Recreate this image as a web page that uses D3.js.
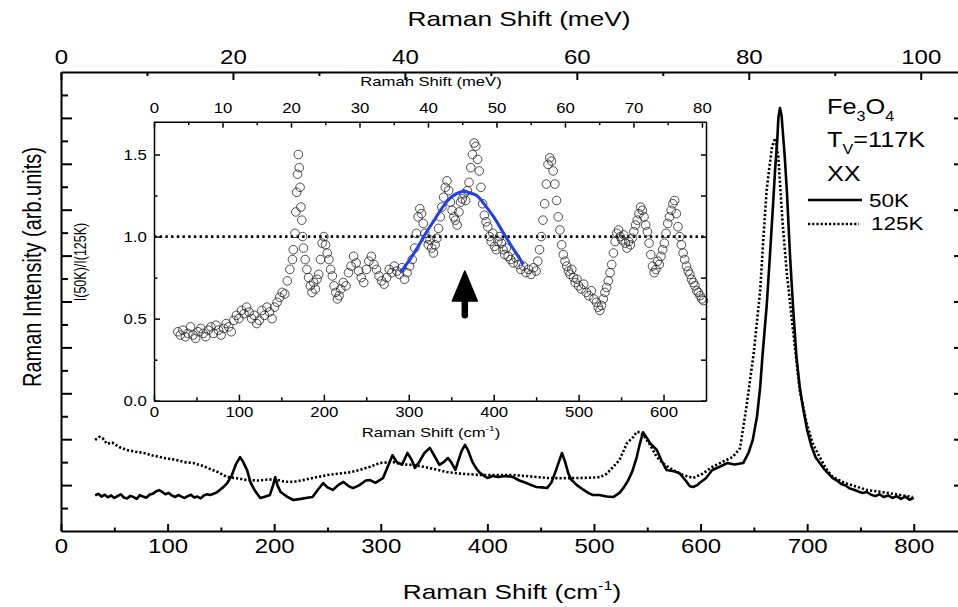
<!DOCTYPE html>
<html><head><meta charset="utf-8">
<script src="https://cdn.jsdelivr.net/npm/d3@7"></script>
<style>
body{margin:0;background:#fff;}
text{font-family:"Liberation Sans",Arial,sans-serif;fill:#000;}
</style>
</head><body>
<svg id="chart" width="958" height="607"></svg>
<script>
// ---- Main spectra (Raman shift cm-1, intensity arb. units) ----
const wn50 = [
32,35,38,41,44,47,50,53,56,59,
62,65,68,71,74,77,80,83,86,89,
92,95,98,101,104,107,110,113,116,119,
122,125,128,131,134,137,140,143,146,152,
156,160,164,168,171,174.5,178,182,187,192,
196,199,201,203,206,212,218,225,231,236,
241,246,250,255,260,265,270,274,280,286,
290,295,299,302,306,311,315,320,325,329,
332,336,341,346,350,355,359,363,366,370,
373,376,379,382,386,390,393,397,400,405,
410,417,424,430,436,441,446,451,456,460,
464,467,470,473,476,479,484,490,495,499,
505,512,518,524,528,532,536,540,543,546,
549,553,559,563,568,575,580,586,590,593,
597,599,605,611,618,625,632,640,645,649,
653,656,658,662,665,668,670,672,673,674.5,
676,677.5,679,681,684,687,690,693,696,700,
704,708,712,716,720,724,728,732,736,740,
744,748,752,756,760,764,768,772,776,780,
784,788,792,796,800];
const int50 = [
1.55,1.62,1.50,1.58,1.47,1.55,1.44,1.52,1.60,1.46,
1.42,1.53,1.48,1.40,1.56,1.50,1.45,1.58,1.62,1.72,
1.78,1.70,1.60,1.66,1.55,1.48,1.57,1.50,1.44,1.52,
1.58,1.46,1.50,1.42,1.55,1.60,1.57,1.62,1.68,1.90,
2.09,2.40,2.90,3.22,3.00,2.66,2.10,1.75,1.44,1.50,
1.57,2.00,2.35,2.00,1.70,1.50,1.35,1.40,1.45,1.48,
1.80,2.09,1.90,1.79,2.00,2.14,1.95,1.87,2.00,2.20,
2.22,2.10,2.22,2.30,2.75,3.30,3.00,2.90,3.40,3.10,
2.75,3.00,3.40,3.62,3.30,2.88,3.00,3.18,3.00,2.66,
3.10,3.50,3.75,3.50,3.00,2.70,2.53,2.40,2.31,2.40,
2.35,2.40,2.35,2.20,2.10,2.00,1.92,1.90,1.87,2.10,
2.60,3.00,3.40,3.00,2.50,2.22,2.00,1.80,1.65,1.57,
1.57,1.50,1.48,1.66,1.90,2.20,2.60,3.20,3.80,4.30,
4.10,3.80,3.53,3.10,2.66,2.60,2.53,2.20,1.95,1.92,
2.00,2.09,2.30,2.66,2.80,2.96,2.90,2.96,3.40,3.97,
5.00,6.30,7.58,9.80,11.94,14.20,15.80,17.04,18.00,18.43,
18.10,17.20,16.30,14.80,11.94,9.60,7.58,6.30,5.40,4.40,
3.70,3.20,2.95,2.70,2.50,2.30,2.20,2.05,1.98,1.85,
1.80,1.72,1.66,1.70,1.58,1.52,1.60,1.48,1.55,1.44,
1.52,1.40,1.50,1.36,1.45];
const wn125 = [
32,36,39,43,48,55,62,70,78,85,
93,100,108,116,124,132,140,148,156,165,
174,185,195,203,210,218,225,235,250,260,
270,280,290,299,311,320,330,340,350,362,
375,393,410,424,440,456,470,487,500,506,
512,518,524,531,537,540,543,546,552,559,
566,574,583,593,602,611,620,630,637,643,
650,656,659,662,665,667,670,673,675,677,
681,686,690,693,699,705,712,718,724,735,
745,756,770,787,799];
const int125 = [
3.97,4.10,4.05,3.80,3.85,3.65,3.53,3.45,3.40,3.30,
3.22,3.15,3.10,3.00,2.96,2.85,2.70,2.55,2.35,2.30,
2.22,2.20,2.25,2.22,2.15,2.14,2.20,2.30,2.44,2.50,
2.55,2.66,2.80,2.96,3.01,2.90,2.88,2.80,2.70,2.57,
2.50,2.44,2.44,2.44,2.38,2.31,2.30,2.31,2.33,2.35,
2.50,2.79,3.10,3.83,4.10,4.31,4.31,4.20,3.80,3.22,
2.90,2.66,2.45,2.31,2.50,2.79,3.00,3.22,3.60,5.40,
7.80,10.50,12.80,14.86,16.00,16.73,17.12,16.30,14.80,13.42,
11.20,9.06,7.40,6.14,4.80,3.83,3.20,2.70,2.35,2.10,
1.95,1.79,1.70,1.57,1.48];

// ---- Inset: ratio I(50K)/I(125K) ----
const ratioWn = [
28,31,34,37,40,43,46,49,52,55,
58,61,64,67,70,73,76,79,82,85,
88,91,94,97,100,103,106,109,112,115,
118,121,124,127,130,133,136,139,142,145,
148,151,154,157,160,163,164,166,167,168,
169,170,171,172,173,174,175,176,178,180,
182,184,186,188,190,192,194,196,198,200,
202,204,206,208,210,212,214,216,218,220,
223,226,229,232,235,238,241,244,247,250,
253,256,259,262,265,268,271,274,277,280,
283,286,289,292,295,298,301,304,307,309,
311,313,315,317,319,321,323,325,327,329,
331,333,335,337,339,341,343,345,347,349,
351,353,355,357,359,361,363,365,367,369,
371,373,375,377,379,381,383,385,387,389,
391,393,395,397,399,401,403,405,407,409,
411,413,415,417,420,423,426,429,432,435,
438,441,444,447,450,452,454,456,458,460,
462,464,466,468,470,472,474,476,478,480,
482,484,486,488,490,492,494,496,498,500,
503,506,509,512,515,518,521,523,525,527,
529,531,533,535,537,539,541,543,545,547,
549,551,553,555,557,559,561,563,565,567,
569,571,573,575,577,579,581,583,585,587,
589,591,593,595,597,599,601,603,605,607,
609,611,613,615,617,619,621,623,625,627,
629,631,633,635,637,639,641,643,645,647];
const ratioVal = [
0.42,0.40,0.43,0.39,0.41,0.45,0.40,0.38,0.42,0.44,
0.41,0.39,0.43,0.45,0.41,0.46,0.43,0.40,0.44,0.47,
0.45,0.42,0.49,0.52,0.50,0.55,0.53,0.57,0.54,0.50,
0.52,0.47,0.49,0.55,0.52,0.57,0.54,0.50,0.57,0.60,
0.63,0.66,0.65,0.73,0.80,0.86,0.92,1.02,1.15,1.27,
1.38,1.50,1.42,1.30,1.18,1.10,1.00,0.93,0.86,0.80,
0.75,0.70,0.66,0.72,0.68,0.74,0.77,0.86,0.96,1.00,
0.95,0.90,0.86,0.80,0.76,0.70,0.66,0.62,0.64,0.68,
0.72,0.70,0.78,0.82,0.88,0.84,0.79,0.75,0.72,0.80,
0.85,0.88,0.83,0.80,0.76,0.73,0.71,0.75,0.80,0.78,
0.82,0.79,0.77,0.81,0.74,0.78,0.82,0.86,0.93,1.02,
1.12,1.17,1.14,1.08,1.02,0.99,0.95,0.98,0.93,0.90,
0.95,0.99,1.05,1.12,1.18,1.24,1.30,1.34,1.28,1.21,
1.16,1.12,1.10,1.07,1.15,1.21,1.23,1.26,1.22,1.28,
1.33,1.42,1.50,1.57,1.55,1.47,1.40,1.30,1.20,1.13,
1.09,1.06,1.00,0.97,1.02,0.94,0.92,0.97,1.00,0.96,
0.92,0.89,0.93,0.88,0.86,0.84,0.87,0.83,0.80,0.82,
0.78,0.80,0.77,0.81,0.79,0.85,0.92,1.00,1.10,1.20,
1.32,1.44,1.48,1.46,1.40,1.32,1.22,1.12,1.04,0.95,
0.89,0.85,0.82,0.79,0.77,0.80,0.75,0.72,0.74,0.70,
0.68,0.71,0.66,0.64,0.67,0.62,0.60,0.57,0.55,0.58,
0.62,0.66,0.69,0.73,0.78,0.83,0.90,0.97,1.02,1.04,
1.00,0.98,1.01,0.96,0.93,0.97,0.95,0.99,1.03,1.07,
1.10,1.14,1.18,1.16,1.12,1.07,1.03,0.96,0.89,0.82,
0.78,0.80,0.85,0.83,0.88,0.92,0.96,1.02,1.08,1.12,
1.16,1.20,1.22,1.14,1.06,1.00,0.95,0.90,0.86,0.82,
0.79,0.77,0.74,0.72,0.70,0.67,0.66,0.64,0.62,0.61];
const fitWn  = [290,300,310,320,330,340,350,360,366,370,380,390,400,410,420,430,435];
const fitVal = [0.78,0.85,0.93,1.02,1.10,1.18,1.24,1.27,1.275,1.27,1.25,1.19,1.12,1.035,0.95,0.87,0.83];
const refLine = 1.0;
const arrowWn = 366, arrowTip = 0.79, arrowBottom = 0.52;

// ---- tick values ----
const mainBottomMajor = [0,100,200,300,400,500,600,700,800];
const mainBottomMinor = [50,150,250,350,450,550,650,750];
const mainTopMajor = [0,20,40,60,80,100];
const mainTopMinor = [10,30,50,70,90];
const mainLeftMajor = [2,4,6,8,10,12,14,16,18];
const mainLeftMinor = [1,3,5,7,9,11,13,15,17,19];
const insetBottomMajor = [0,100,200,300,400,500,600];
const insetBottomMinor = [50,150,250,350,450,550];
const insetTopMajor = [0,10,20,30,40,50,60,70,80];
const insetTopMinor = [5,15,25,35,45,55,65,75];
const insetLeftMajor = [0,0.5,1.0,1.5];
const insetLeftMinor = [0.25,0.75,1.25];

const CM_PER_MEV = 8.0655;
const svg = d3.select("#chart");

// ---- scales ----
const xMax = 843.4;
const x = d3.scaleLinear().domain([0, xMax]).range([61, 960]);
const xMeV = d3.scaleLinear().domain([0, xMax / CM_PER_MEV]).range([61, 960]);
const y = d3.scaleLinear().domain([0, 20]).range([531, 72]);

const xi = d3.scaleLinear().domain([0, 650]).range([154, 706]);
const xiMeV = d3.scaleLinear().domain([0, 650 / CM_PER_MEV]).range([154, 706]);
const yi = d3.scaleLinear().domain([0, 1.7]).range([400.7, 121.7]);

function styleAxis(g, w) {
  g.select(".domain").attr("stroke", "#000").attr("stroke-width", w);
  g.selectAll(".tick line").attr("stroke", "#000").attr("stroke-width", w);
}
function addAxis(axis, transform, w, fs, sx) {
  const g = svg.append("g").attr("transform", transform).call(axis);
  styleAxis(g, w);
  g.selectAll("text").attr("font-size", fs).attr("fill", "#000")
    .attr("font-family", '"Liberation Sans",Arial,sans-serif')
    .attr("transform", `scale(${sx},1)`);
  return g;
}

// ---- main axes ----
addAxis(d3.axisBottom(x).tickValues(mainBottomMajor).tickSizeInner(-7).tickSizeOuter(0).tickPadding(8),
  "translate(0,531)", 2, 20, 1.2);
addAxis(d3.axisBottom(x).tickValues(mainBottomMinor).tickSizeInner(-3.5).tickSizeOuter(0).tickFormat(""),
  "translate(0,531)", 2, 20, 1.2).select(".domain").remove();
addAxis(d3.axisTop(xMeV).tickValues(mainTopMajor).tickSizeInner(-8).tickSizeOuter(0).tickPadding(8),
  "translate(0,72)", 2, 20, 1.2);
addAxis(d3.axisTop(xMeV).tickValues(mainTopMinor).tickSizeInner(-4).tickSizeOuter(0).tickFormat(""),
  "translate(0,72)", 2, 20, 1.2).select(".domain").remove();
addAxis(d3.axisLeft(y).tickValues(mainLeftMajor).tickSizeInner(-11).tickSizeOuter(0).tickFormat(""),
  "translate(61,0)", 2, 20, 1);
addAxis(d3.axisLeft(y).tickValues(mainLeftMinor).tickSizeInner(-7).tickSizeOuter(0).tickFormat(""),
  "translate(61,0)", 2, 20, 1).select(".domain").remove();
addAxis(d3.axisRight(y).tickValues(mainLeftMajor).tickSizeInner(-6).tickSizeOuter(0).tickFormat(""),
  "translate(960,0)", 2, 20, 1);

// ---- main curves ----
const line = d3.line().x(d => x(d[0])).y(d => y(d[1]));
svg.append("path").datum(wn125.map((w, i) => [w, int125[i]]))
  .attr("d", line).attr("fill", "none").attr("stroke", "#000")
  .attr("stroke-width", 2.6).attr("stroke-dasharray", "2.2,2");
svg.append("path").datum(wn50.map((w, i) => [w, int50[i]]))
  .attr("d", line).attr("fill", "none").attr("stroke", "#000")
  .attr("stroke-width", 2.6).attr("stroke-linejoin", "round");

// ---- text helpers ----
function label(x0, y0, str, fs, sx, anchor, rot) {
  const t = svg.append("text")
    .attr("transform", `translate(${x0},${y0}) scale(${sx},1)` + (rot ? ` rotate(${rot})` : ""))
    .attr("font-size", fs).attr("text-anchor", anchor || "start");
  t.text(str);
  return t;
}

// main titles
label(519, 26, "Raman Shift (meV)", 21, 1.25, "middle");
{
  const t = label(512, 599, "Raman Shift (cm", 21, 1.25, "middle");
  t.append("tspan").attr("font-size", 13).attr("dy", -9).text("-1");
  t.append("tspan").attr("dy", 9).text(")");
}
label(41, 267, "Raman Intensity (arb.units)", 20, 1.33, "middle", -90);

// ---- inset ----
addAxis(d3.axisBottom(xi).tickValues(insetBottomMajor).tickSizeInner(-6).tickSizeOuter(0).tickPadding(6),
  "translate(0,400.7)", 1.5, 14, 1.2);
addAxis(d3.axisBottom(xi).tickValues(insetBottomMinor).tickSizeInner(-3.5).tickSizeOuter(0).tickFormat(""),
  "translate(0,400.7)", 1.5, 14, 1.2).select(".domain").remove();
addAxis(d3.axisTop(xiMeV).tickValues(insetTopMajor).tickSizeInner(-6).tickSizeOuter(0).tickPadding(9),
  "translate(0,121.7)", 1.5, 14, 1.2);
addAxis(d3.axisTop(xiMeV).tickValues(insetTopMinor).tickSizeInner(-3.5).tickSizeOuter(0).tickFormat(""),
  "translate(0,121.7)", 1.5, 14, 1.2).select(".domain").remove();
addAxis(d3.axisLeft(yi).tickValues(insetLeftMajor).tickSizeInner(-6).tickSizeOuter(0).tickPadding(6)
  .tickFormat(d3.format(".1f")), "translate(154,0)", 1.5, 14, 1.2);
addAxis(d3.axisLeft(yi).tickValues(insetLeftMinor).tickSizeInner(-3.5).tickSizeOuter(0).tickFormat(""),
  "translate(154,0)", 1.5, 14, 1.2).select(".domain").remove();
addAxis(d3.axisRight(yi).tickValues(insetLeftMajor.concat(insetLeftMinor)).tickSizeInner(-5).tickSizeOuter(0).tickFormat(""),
  "translate(706,0)", 1.5, 14, 1.2);

// reference line at 1.0
svg.append("line").attr("x1", xi(0)).attr("x2", xi(650)).attr("y1", yi(refLine)).attr("y2", yi(refLine))
  .attr("stroke", "#000").attr("stroke-width", 2.6).attr("stroke-dasharray", "2.4,3.3");

// ratio circles
svg.append("g").selectAll("circle").data(ratioWn.map((w, i) => [w, ratioVal[i]])).join("circle")
  .attr("cx", d => xi(d[0])).attr("cy", d => yi(d[1])).attr("r", 4.3)
  .attr("fill", "none").attr("stroke", "#222").attr("stroke-width", 0.8);

// fit curve
svg.append("path").datum(fitWn.map((w, i) => [w, fitVal[i]]))
  .attr("d", d3.line().x(d => xi(d[0])).y(d => yi(d[1])).curve(d3.curveCatmullRom))
  .attr("fill", "none").attr("stroke", "#1f3ff0").attr("stroke-width", 3);

// arrow
{
  const ax = xi(arrowWn), tipY = yi(arrowTip), botY = yi(arrowBottom);
  const headBase = tipY + 30;
  svg.append("line").attr("x1", ax).attr("x2", ax).attr("y1", headBase - 2).attr("y2", botY)
    .attr("stroke", "#000").attr("stroke-width", 6.5).attr("stroke-linecap", "round");
  svg.append("path").attr("d", `M${ax},${tipY} L${ax + 12.5},${headBase} L${ax - 12.5},${headBase} Z`)
    .attr("fill", "#000").attr("stroke", "#000").attr("stroke-width", 1.5).attr("stroke-linejoin", "round");
}

// inset titles
label(431, 86, "Ramah Shift (meV)", 13, 1.28, "middle");
{
  const t = label(431, 437, "Raman Shift (cm", 13, 1.28, "middle");
  t.append("tspan").attr("font-size", 8).attr("dy", -6).text("-1");
  t.append("tspan").attr("dy", 6).text(")");
}
label(86, 262, "I(50K)/I(125K)", 12.5, 1.3, "middle", -90);

// ---- annotations ----
{
  const t = label(827, 114, "Fe", 22, 1.15, "start");
  t.append("tspan").attr("font-size", 14).attr("dy", 7).text("3");
  t.append("tspan").attr("dy", -7).text("O");
  t.append("tspan").attr("font-size", 14).attr("dy", 7).text("4");
}
{
  const t = label(827, 147, "T", 22, 1.15, "start");
  t.append("tspan").attr("font-size", 14).attr("dy", 7).text("V");
  t.append("tspan").attr("dy", -7).text("=117K");
}
label(827, 181, "XX", 22, 1.15, "start");

// legend
svg.append("line").attr("x1", 808).attr("x2", 862).attr("y1", 200).attr("y2", 200)
  .attr("stroke", "#000").attr("stroke-width", 2.6);
label(869, 207, "50K", 18, 1.25, "start");
svg.append("line").attr("x1", 808).attr("x2", 859).attr("y1", 224).attr("y2", 224)
  .attr("stroke", "#000").attr("stroke-width", 2.6).attr("stroke-dasharray", "2.2,2");
label(871, 230, "125K", 18, 1.25, "start");
</script>
</body></html>
